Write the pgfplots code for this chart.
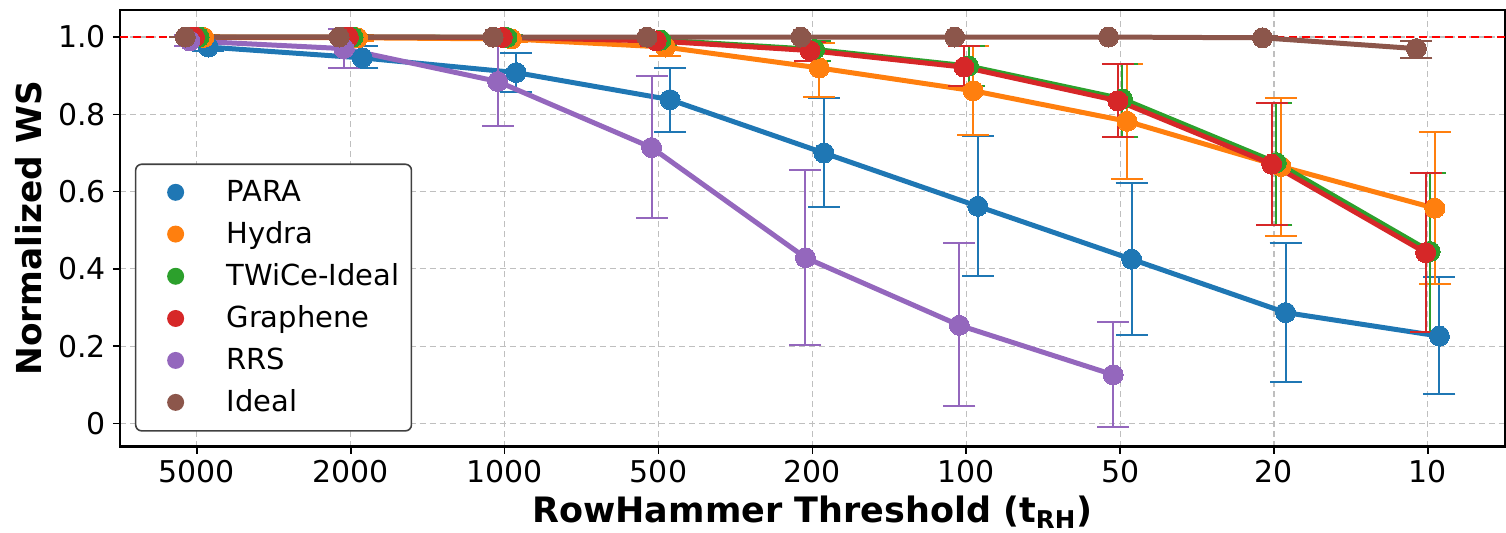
\documentclass[border=0pt]{standalone}
\usepackage{fontspec}
\setmainfont{DejaVu Sans}
\usepackage{pgfplots}
\usepackage{pgfplotstable}
\pgfplotsset{compat=1.18}

\definecolor{cPARA}{HTML}{1F77B4}
\definecolor{cHydra}{HTML}{FF7F0E}
\definecolor{cTWiCe}{HTML}{2CA02C}
\definecolor{cGraphene}{HTML}{D62728}
\definecolor{cRRS}{HTML}{9467BD}
\definecolor{cIdeal}{HTML}{8C564B}

% x = category index (0 = 5000 ... 8 = 10), y = mean, lo/hi = error bar ends
\pgfplotstableread{
x y lo hi
0 0.974 0.965 0.985
1 0.946 0.921 0.978
2 0.908 0.857 0.959
3 0.838 0.755 0.921
4 0.700 0.561 0.842
5 0.562 0.382 0.743
6 0.425 0.230 0.623
7 0.287 0.107 0.466
8 0.226 0.075 0.378
}\para
\pgfplotstableread{
x y lo hi
0 0.999 0.990 1.005
1 0.998 0.990 1.005
2 0.995 0.987 1.003
3 0.974 0.950 0.990
4 0.920 0.846 0.985
5 0.861 0.747 0.976
6 0.782 0.632 0.931
7 0.665 0.486 0.842
8 0.557 0.360 0.753
}\hydra
\pgfplotstableread{
x y lo hi
0 1.000 0.995 1.005
1 1.000 0.995 1.005
2 0.999 0.994 1.004
3 0.992 0.980 1.000
4 0.968 0.939 0.990
5 0.925 0.872 0.976
6 0.840 0.742 0.931
7 0.675 0.514 0.829
8 0.445 0.236 0.648
}\twice
\pgfplotstableread{
x y lo hi
0 1.000 0.995 1.005
1 1.000 0.995 1.005
2 0.999 0.994 1.004
3 0.990 0.978 1.000
4 0.965 0.939 0.988
5 0.922 0.872 0.976
6 0.835 0.742 0.931
7 0.671 0.514 0.829
8 0.442 0.236 0.648
}\graphene
\pgfplotstableread{
x y lo hi
0 0.990 0.978 1.005
1 0.970 0.920 1.020
2 0.885 0.769 1.000
3 0.714 0.531 0.899
4 0.429 0.204 0.655
5 0.254 0.044 0.467
6 0.126 -0.008 0.263
}\rrs
\pgfplotstableread{
x y lo hi
0 1.000 1.000 1.000
1 1.000 1.000 1.000
2 1.000 1.000 1.000
3 1.000 1.000 1.000
4 1.000 1.000 1.000
5 1.000 1.000 1.000
6 1.000 1.000 1.000
7 0.998 0.994 1.002
8 0.970 0.945 0.991
}\ideal

\pgfplotsset{
  ser/.style={color=#1, line width=2.5pt, mark=*, mark size=5pt,
    mark options={solid, line width=0pt}, forget plot,
    error bars/.cd, y dir=both, y explicit,
    error bar style={line width=1pt, color=#1},
    error mark options={rotate=90, mark size=8pt, line width=1pt, color=#1}},
  dot/.style={only marks, mark=*, mark size=4.25pt, color=#1,
    mark options={line width=0pt},
    legend image code/.code={\path[draw=none, fill=none] (0pt,0pt) -- (37pt,0pt);
      \path[draw=none, fill=#1] (16pt,0pt) circle (4.25pt);}},
}

\begin{document}
\begin{tikzpicture}
\begin{axis}[
    scale only axis,
    width=693pt, height=218.5pt,
    xmin=-0.5, xmax=8.5,
    ymin=-0.06, ymax=1.07,
    xtick={0,1,2,3,4,5,6,7,8},
    xticklabels={5000,2000,1000,500,200,100,50,20,10},
    ytick={0,0.2,0.4,0.6,0.8,1.0},
    yticklabels={0,0.2,0.4,0.6,0.8,1.0},
    /pgf/number format/assume math mode=true,
    tick label style={font=\fontsize{15}{18}\selectfont},
    tick align=outside, tick pos=left,
    major tick length=3.5pt,
    every tick/.style={black, line width=0.8pt},
    axis line style={line width=1.2pt},
    xmajorgrids, ymajorgrids,
    grid style={gray!50, line width=0.6pt, dash pattern=on 3pt off 2pt},
    xlabel={\textbf{RowHammer Threshold (t\textsubscript{RH})}},
    ylabel={\textbf{Normalized WS}},
    xlabel style={font=\fontsize{17.5}{20}\selectfont, inner sep=0pt,
      at={(axis description cs:0.5,0)}, anchor=north, yshift=-24.5pt},
    ylabel style={font=\fontsize{17.2}{20}\selectfont, inner sep=0pt,
      at={(axis description cs:-0.0758,0.5)}, anchor=north, rotate=0},
    legend style={at={(axis description cs:0.0108,0.0343)}, anchor=south west,
      draw=black!75, line width=0.8pt, rounded corners=3pt,
      font=\fontsize{14.5}{17}\selectfont, row sep=4.6pt, column sep=2.5pt,
      inner xsep=4pt, inner ysep=6pt},
    legend cell align=left,
]
\addplot[red, line width=0.7pt, dash pattern=on 4pt off 2.5pt, forget plot] coordinates {(-0.5,1) (8.5,1)};

\addplot[ser=cPARA] table[x expr=\thisrow{x}+0.075, y=y,
  y error plus expr=\thisrow{hi}-\thisrow{y}, y error minus expr=\thisrow{y}-\thisrow{lo}] {\para};
\addplot[ser=cHydra] table[x expr=\thisrow{x}+0.045, y=y,
  y error plus expr=\thisrow{hi}-\thisrow{y}, y error minus expr=\thisrow{y}-\thisrow{lo}] {\hydra};
\addplot[ser=cTWiCe] table[x expr=\thisrow{x}+0.015, y=y,
  y error plus expr=\thisrow{hi}-\thisrow{y}, y error minus expr=\thisrow{y}-\thisrow{lo}] {\twice};
\addplot[ser=cGraphene] table[x expr=\thisrow{x}-0.015, y=y,
  y error plus expr=\thisrow{hi}-\thisrow{y}, y error minus expr=\thisrow{y}-\thisrow{lo}] {\graphene};
\addplot[ser=cRRS] table[x expr=\thisrow{x}-0.045, y=y,
  y error plus expr=\thisrow{hi}-\thisrow{y}, y error minus expr=\thisrow{y}-\thisrow{lo}] {\rrs};
\addplot[ser=cIdeal] table[x expr=\thisrow{x}-0.075, y=y,
  y error plus expr=\thisrow{hi}-\thisrow{y}, y error minus expr=\thisrow{y}-\thisrow{lo}] {\ideal};

\addlegendimage{dot=cPARA}
\addlegendimage{dot=cHydra}
\addlegendimage{dot=cTWiCe}
\addlegendimage{dot=cGraphene}
\addlegendimage{dot=cRRS}
\addlegendimage{dot=cIdeal}
\legend{PARA, Hydra, TWiCe-Ideal, Graphene, RRS, Ideal}
\end{axis}
\path (current axis.south west) ++(-60pt,-43pt);
\path (current axis.north east) ++(0pt,5pt);
\end{tikzpicture}
\end{document}
